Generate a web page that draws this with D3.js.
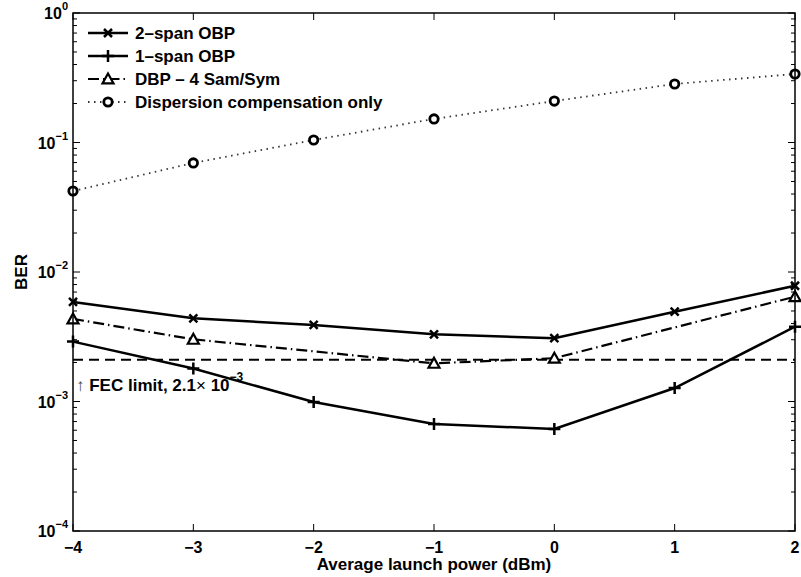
<!DOCTYPE html>
<html>
<head>
<meta charset="utf-8">
<script src="https://cdn.jsdelivr.net/npm/d3@7"></script>
<style>
  body { margin: 0; background: #fff; }
  text { font-family: "Liberation Sans", Arial, sans-serif; font-weight: bold; }
</style>
</head>
<body>
<svg id="chart" width="801" height="577"></svg>
<script>
// data
var powerX = [-4, -3, -2, -1, 0, 1, 2];
var span2OBP = [0.00587, 0.00439, 0.0039, 0.0033, 0.00308, 0.00494, 0.00783];
var span1OBP = [0.0029, 0.0018, 0.00099, 0.00067, 0.000613, 0.00127, 0.00378];
var dbpX = [-4, -3, -1, 0, 2];
var dbp4Sam = [0.00434, 0.00302, 0.00197, 0.00216, 0.00645];
var dispOnly = [0.0422, 0.0695, 0.1045, 0.152, 0.209, 0.283, 0.338];
var fecLimit = 0.0021;
var xTicks = [-4, -3, -2, -1, 0, 1, 2];
var yDecades = [0, -1, -2, -3, -4];

var margin = {left: 73, top: 13, right: 6, bottom: 46};
var W = 801, H = 577;

const svg = d3.select('#chart');

var x = d3.scaleLinear().domain([-4, 2]).range([margin.left, W - margin.right]);
var y = d3.scaleLog().domain([1e-4, 1]).range([H - margin.bottom, margin.top]);

var x0 = x.range()[0], x1 = x.range()[1];
var yb = y.range()[0], yt = y.range()[1];

function series(xs, ys) {
  return xs.map(function(d, i) { return [d, ys[i]]; });
}
var line = d3.line().x(d => x(d[0])).y(d => y(d[1]));

const g = svg.append('g');

// FEC limit
g.append('line')
  .attr('x1', x0).attr('x2', x1)
  .attr('y1', y(fecLimit)).attr('y2', y(fecLimit))
  .style('stroke', '#000').style('stroke-width', 2.2)
  .style('stroke-dasharray', '10,6');

var styles = [
  {name: '2\u2013span OBP', data: series(powerX, span2OBP), dash: null, width: 2.5, color: '#000', marker: 'x'},
  {name: '1\u2013span OBP', data: series(powerX, span1OBP), dash: null, width: 2.5, color: '#000', marker: '+'},
  {name: 'DBP \u2013 4 Sam/Sym', data: series(dbpX, dbp4Sam), dash: '11,4,1.5,4', width: 2.2, color: '#000', marker: 'tri'},
  {name: 'Dispersion compensation only', data: series(powerX, dispOnly), dash: '1.5,4.5', width: 1.8, color: '#333', marker: 'o'}
];

function drawMarker(sel, type, cx, cy) {
  if (type === 'x') {
    var s = 4;
    sel.append('path')
      .attr('d', 'M' + (cx - s) + ',' + (cy - s) + 'L' + (cx + s) + ',' + (cy + s) +
                 'M' + (cx - s) + ',' + (cy + s) + 'L' + (cx + s) + ',' + (cy - s))
      .style('stroke', '#000').style('stroke-width', 2.5).style('fill', 'none');
  } else if (type === '+') {
    var s = 6;
    sel.append('path')
      .attr('d', 'M' + (cx - s) + ',' + cy + 'L' + (cx + s) + ',' + cy +
                 'M' + cx + ',' + (cy - s) + 'L' + cx + ',' + (cy + s))
      .style('stroke', '#000').style('stroke-width', 2.5).style('fill', 'none');
  } else if (type === 'tri') {
    var s = 5.5;
    sel.append('path')
      .attr('d', 'M' + cx + ',' + (cy - s) + 'L' + (cx + s) + ',' + (cy + s * 0.8) +
                 'L' + (cx - s) + ',' + (cy + s * 0.8) + 'Z')
      .style('stroke', '#000').style('stroke-width', 2.2).style('fill', '#fff');
  } else if (type === 'o') {
    sel.append('circle')
      .attr('cx', cx).attr('cy', cy).attr('r', 4.2)
      .style('stroke', '#000').style('stroke-width', 2.8).style('fill', '#fff');
  }
}

styles.forEach(function(s) {
  g.append('path')
    .datum(s.data)
    .attr('d', line)
    .style('fill', 'none')
    .style('stroke', s.color)
    .style('stroke-width', s.width)
    .style('stroke-dasharray', s.dash);
  s.data.forEach(function(d) {
    drawMarker(g, s.marker, x(d[0]), y(d[1]));
  });
});

// axes box
svg.append('rect')
  .attr('x', x0).attr('y', yt)
  .attr('width', x1 - x0).attr('height', yb - yt)
  .style('fill', 'none').style('stroke', '#000').style('stroke-width', 1.5);

// x ticks (inside, top and bottom)
var ax = svg.append('g');
xTicks.forEach(function(t) {
  var px = x(t);
  ax.append('line').attr('x1', px).attr('x2', px).attr('y1', yb).attr('y2', yb - 7)
    .style('stroke', '#000').style('stroke-width', 1);
  ax.append('line').attr('x1', px).attr('x2', px).attr('y1', yt).attr('y2', yt + 7)
    .style('stroke', '#000').style('stroke-width', 1);
  ax.append('text')
    .attr('x', px).attr('y', 553)
    .attr('text-anchor', 'middle')
    .style('font-size', '16px')
    .text(t < 0 ? '\u2212' + Math.abs(t) : String(t));
});

// y ticks, log decades and minors
yDecades.forEach(function(e) {
  var py = y(Math.pow(10, e));
  [[x0, x0 + 7], [x1, x1 - 7]].forEach(function(p) {
    ax.append('line').attr('x1', p[0]).attr('x2', p[1]).attr('y1', py).attr('y2', py)
      .style('stroke', '#000').style('stroke-width', 1);
  });
  if (e > -4) {
    for (var m = 2; m <= 9; m++) {
      var pm = y(m * Math.pow(10, e - 1));
      [[x0, x0 + 4], [x1, x1 - 4]].forEach(function(p) {
        ax.append('line').attr('x1', p[0]).attr('x2', p[1]).attr('y1', pm).attr('y2', pm)
          .style('stroke', '#000').style('stroke-width', 1);
      });
    }
  }
  var lbl = ax.append('text')
    .attr('x', 68).attr('y', py + 6)
    .attr('text-anchor', 'end')
    .style('font-size', '16px');
  lbl.append('tspan').text('10');
  lbl.append('tspan')
    .attr('dy', -9)
    .style('font-size', '11px')
    .text(e === 0 ? '0' : '\u2212' + Math.abs(e));
});

// axis labels
svg.append('text')
  .attr('x', (x0 + x1) / 2).attr('y', 570)
  .attr('text-anchor', 'middle')
  .style('font-size', '17px')
  .text('Average launch power (dBm)');

svg.append('text')
  .attr('transform', 'translate(27,' + ((yt + yb) / 2) + ') rotate(-90)')
  .attr('text-anchor', 'middle')
  .style('font-size', '17px')
  .text('BER');

// FEC annotation
var fec = svg.append('text')
  .attr('x', 76).attr('y', 391)
  .style('font-size', '17px');
fec.append('tspan').style('font-weight', 'normal').style('fill', '#444').text('\u2191');
fec.append('tspan').text(' FEC limit, 2.1');
fec.append('tspan').style('font-weight', 'normal').text('\u00d7');
fec.append('tspan').text(' 10');
fec.append('tspan').attr('dy', -10).style('font-size', '12px').text('\u22123');

// legend
var leg = svg.append('g');
styles.forEach(function(s, i) {
  var ly = 33 + i * 23;
  leg.append('line')
    .attr('x1', 88).attr('x2', 128).attr('y1', ly).attr('y2', ly)
    .style('stroke', s.color)
    .style('stroke-width', s.width)
    .style('stroke-dasharray', s.dash);
  drawMarker(leg, s.marker, 108, ly);
  leg.append('text')
    .attr('x', 135).attr('y', ly + 6)
    .style('font-size', '17px')
    .text(s.name);
});
</script>
</body>
</html>
